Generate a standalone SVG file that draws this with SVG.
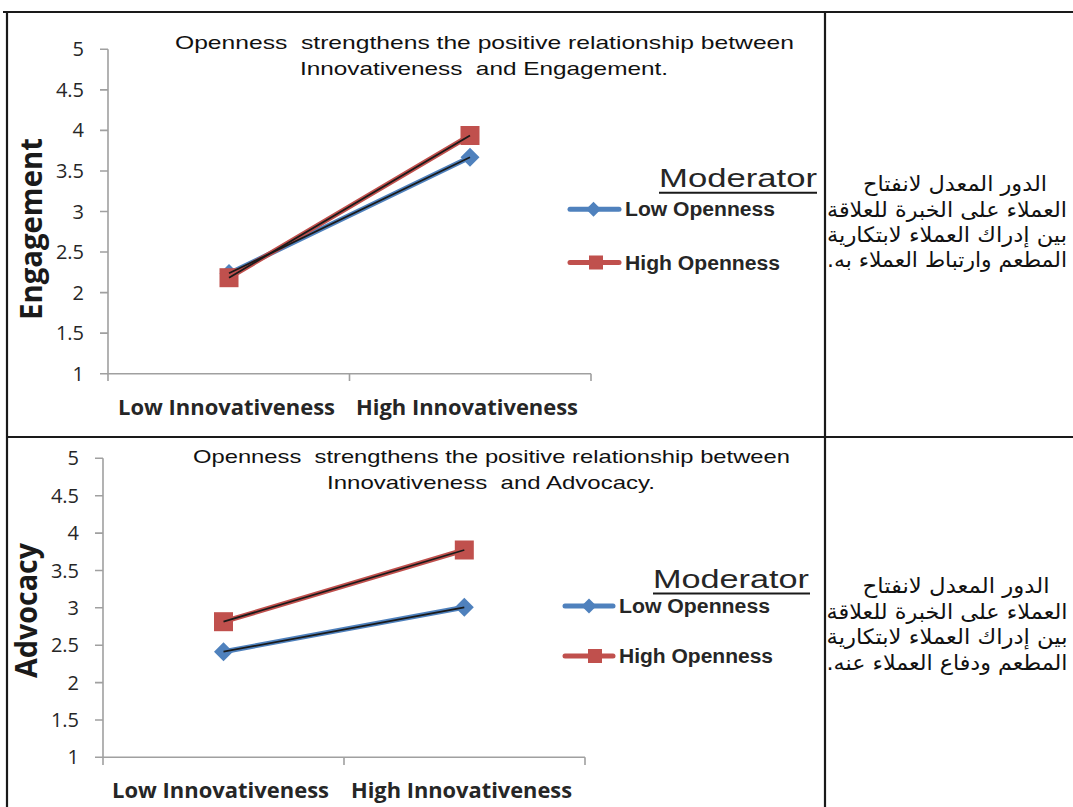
<svg xmlns="http://www.w3.org/2000/svg" width="1073" height="807" viewBox="0 0 1073 807">
<style>
.border{stroke:#1a1a1a;stroke-width:2.2;fill:none}
.axis{stroke:#a0a0a0;stroke-width:1.6;fill:none}
.tick{font-family:"Open Sans","Liberation Sans",sans-serif;font-size:20px;fill:#262626;text-anchor:end}
.ytitle{font-family:"Open Sans","Liberation Sans",sans-serif;font-size:30px;font-weight:bold;fill:#1a1a1a;text-anchor:middle}
.xlab{font-family:"Open Sans","Liberation Sans",sans-serif;font-size:21px;font-weight:bold;fill:#262626}
.title{font-family:"Liberation Sans",Arial,sans-serif;font-size:19px;fill:#111}
.mod{font-family:"Liberation Sans",Arial,sans-serif;font-size:26px;fill:#262626}
.leg{font-family:"Liberation Sans",Arial,sans-serif;font-size:20px;font-weight:bold;fill:#262626}
.blue{stroke:#4f81bd;stroke-width:5;fill:none;stroke-linecap:round}
.red{stroke:#c0504d;stroke-width:5;fill:none;stroke-linecap:round}
.blk{stroke:#1a1a1a;stroke-width:1.8;fill:none}
.dia{fill:#4f81bd}
.sq{fill:#c0504d}
.ar{font-family:"DejaVu Sans","Noto Sans",sans-serif;font-size:21px;fill:#111;text-anchor:middle;direction:rtl;unicode-bidi:embed}
</style>
<defs>
<path id="diamond" d="M0,-9.5 L9.5,0 L0,9.5 L-9.5,0 Z" class="dia"/>
<rect id="square" x="-9.5" y="-9.5" width="19" height="19" class="sq"/>
<path id="ldiamond" d="M0,-7.5 L7.5,0 L0,7.5 L-7.5,0 Z" class="dia"/>
<rect id="lsquare" x="-7" y="-7" width="14" height="14" class="sq"/>
</defs>

<g id="table">
<line class="border" x1="3" y1="12" x2="1073" y2="12"/>
<line class="border" x1="7" y1="12" x2="7" y2="807"/>
<line class="border" x1="825" y1="12" x2="825" y2="807"/>
<line class="border" x1="7" y1="437" x2="1073" y2="437"/>
</g>

<!-- Chart 1 -->
<g id="chart1">
<g id="chart1-axes">
<path class="axis" d="M108,49.3 V373.7 H591"/>
<path class="axis" d="M100,49.3 H108 M100,89.9 H108 M100,130.4 H108 M100,171 H108 M100,211.5 H108 M100,252 H108 M100,292.6 H108 M100,333.1 H108 M100,373.7 H108"/>
<path class="axis" d="M108,373.7 V381 M349.5,373.7 V381 M591,373.7 V381"/>
<text class="tick" x="84" y="56.3">5</text>
<text class="tick" x="84" y="96.9">4.5</text>
<text class="tick" x="84" y="137.4">4</text>
<text class="tick" x="84" y="178">3.5</text>
<text class="tick" x="84" y="218.5">3</text>
<text class="tick" x="84" y="259">2.5</text>
<text class="tick" x="84" y="299.6">2</text>
<text class="tick" x="84" y="340.1">1.5</text>
<text class="tick" x="84" y="380.7">1</text>
<text class="ytitle" transform="translate(42,229) rotate(-90)" textLength="182" lengthAdjust="spacingAndGlyphs">Engagement</text>
<text class="xlab" x="118" y="415" textLength="217" lengthAdjust="spacingAndGlyphs">Low Innovativeness</text>
<text class="xlab" x="356" y="415" textLength="222" lengthAdjust="spacingAndGlyphs">High Innovativeness</text>
</g>
<g id="chart1-title">
<text class="title" x="175" y="49" textLength="619" lengthAdjust="spacingAndGlyphs" xml:space="preserve">Openness  strengthens the positive relationship between</text>
<text class="title" x="300" y="75" textLength="368" lengthAdjust="spacingAndGlyphs" xml:space="preserve">Innovativeness  and Engagement.</text>
</g>
<g id="chart1-series">
<line class="blue" x1="229" y1="273.5" x2="470" y2="157.3"/>
<line class="red" x1="229" y1="277.7" x2="470" y2="135.5"/>
<use href="#diamond" x="229" y="273.5"/>
<use href="#diamond" x="470" y="157.3"/>
<use href="#square" x="229" y="277.7"/>
<use href="#square" x="470" y="135.5"/>
<line class="blk" x1="229" y1="273.3" x2="470" y2="157.3"/>
<line class="blk" x1="229" y1="277.7" x2="470" y2="135.5"/>
</g>
<g id="chart1-legend">
<text class="mod" x="659" y="187" textLength="158" lengthAdjust="spacingAndGlyphs">Moderator</text>
<line x1="659" y1="192.8" x2="817" y2="192.8" stroke="#1a1a1a" stroke-width="2"/>
<line class="blue" x1="570" y1="209.3" x2="619" y2="209.3" stroke-width="4.5"/>
<use href="#ldiamond" x="593.5" y="209.3"/>
<text class="leg" x="625" y="215.5" textLength="150" lengthAdjust="spacingAndGlyphs">Low Openness</text>
<line class="red" x1="570" y1="262.5" x2="619" y2="262.5" stroke-width="4.5"/>
<use href="#lsquare" x="596" y="262.5"/>
<text class="leg" x="625" y="269.5" textLength="155" lengthAdjust="spacingAndGlyphs">High Openness</text>
</g>
</g>
<g id="note1">
<text class="ar" x="955" y="191" textLength="184" lengthAdjust="spacingAndGlyphs">الدور المعدل لانفتاح</text>
<text class="ar" x="947" y="216.5" textLength="240" lengthAdjust="spacingAndGlyphs">العملاء على الخبرة للعلاقة</text>
<text class="ar" x="947" y="241.5" textLength="240" lengthAdjust="spacingAndGlyphs">بين إدراك العملاء لابتكارية</text>
<text class="ar" x="947" y="267" textLength="240" lengthAdjust="spacingAndGlyphs">المطعم وارتباط العملاء به.</text>
</g>

<!-- Chart 2 -->
<g id="chart2">
<g id="chart2-axes">
<path class="axis" d="M103,458.3 V757.3 H585"/>
<path class="axis" d="M95,458.3 H103 M95,495.7 H103 M95,533.1 H103 M95,570.5 H103 M95,607.8 H103 M95,645.2 H103 M95,682.6 H103 M95,720 H103 M95,757.3 H103"/>
<path class="axis" d="M103,757.3 V765 M344,757.3 V765 M585,757.3 V765"/>
<text class="tick" x="79" y="465.3">5</text>
<text class="tick" x="79" y="502.7">4.5</text>
<text class="tick" x="79" y="540.1">4</text>
<text class="tick" x="79" y="577.5">3.5</text>
<text class="tick" x="79" y="614.8">3</text>
<text class="tick" x="79" y="652.2">2.5</text>
<text class="tick" x="79" y="689.6">2</text>
<text class="tick" x="79" y="727">1.5</text>
<text class="tick" x="79" y="764.3">1</text>
<text class="ytitle" transform="translate(37,610.5) rotate(-90)" textLength="135" lengthAdjust="spacingAndGlyphs">Advocacy</text>
<text class="xlab" x="112" y="798" textLength="217" lengthAdjust="spacingAndGlyphs">Low Innovativeness</text>
<text class="xlab" x="351" y="798" textLength="221" lengthAdjust="spacingAndGlyphs">High Innovativeness</text>
</g>
<g id="chart2-title">
<text class="title" x="193" y="463" textLength="597" lengthAdjust="spacingAndGlyphs" xml:space="preserve">Openness  strengthens the positive relationship between</text>
<text class="title" x="327" y="489" textLength="328" lengthAdjust="spacingAndGlyphs" xml:space="preserve">Innovativeness  and Advocacy.</text>
</g>
<g id="chart2-series">
<line class="blue" x1="223.5" y1="651.7" x2="464.3" y2="607.3"/>
<line class="red" x1="223.5" y1="621.7" x2="464.3" y2="550"/>
<use href="#diamond" x="223.5" y="651.7"/>
<use href="#diamond" x="464.3" y="607.3"/>
<use href="#square" x="223.5" y="621.7"/>
<use href="#square" x="464.3" y="550"/>
<line class="blk" x1="223.5" y1="651.7" x2="464.3" y2="607.3"/>
<line class="blk" x1="223.5" y1="621.7" x2="464.3" y2="550"/>
</g>
<g id="chart2-legend">
<text class="mod" x="653" y="587.5" textLength="156" lengthAdjust="spacingAndGlyphs">Moderator</text>
<line x1="653" y1="593.5" x2="810" y2="593.5" stroke="#1a1a1a" stroke-width="2"/>
<line class="blue" x1="565" y1="606" x2="613" y2="606" stroke-width="4.5"/>
<use href="#ldiamond" x="589" y="606"/>
<text class="leg" x="619" y="613" textLength="151" lengthAdjust="spacingAndGlyphs">Low Openness</text>
<line class="red" x1="565" y1="656" x2="613" y2="656" stroke-width="4.5"/>
<use href="#lsquare" x="595" y="656"/>
<text class="leg" x="619" y="663" textLength="154" lengthAdjust="spacingAndGlyphs">High Openness</text>
</g>
</g>
<g id="note2">
<text class="ar" x="956" y="593" textLength="187" lengthAdjust="spacingAndGlyphs">الدور المعدل لانفتاح</text>
<text class="ar" x="947" y="618.5" textLength="241" lengthAdjust="spacingAndGlyphs">العملاء على الخبرة للعلاقة</text>
<text class="ar" x="947" y="644" textLength="241" lengthAdjust="spacingAndGlyphs">بين إدراك العملاء لابتكارية</text>
<text class="ar" x="947" y="669.5" textLength="241" lengthAdjust="spacingAndGlyphs">المطعم ودفاع العملاء عنه.</text>
</g>
</svg>
